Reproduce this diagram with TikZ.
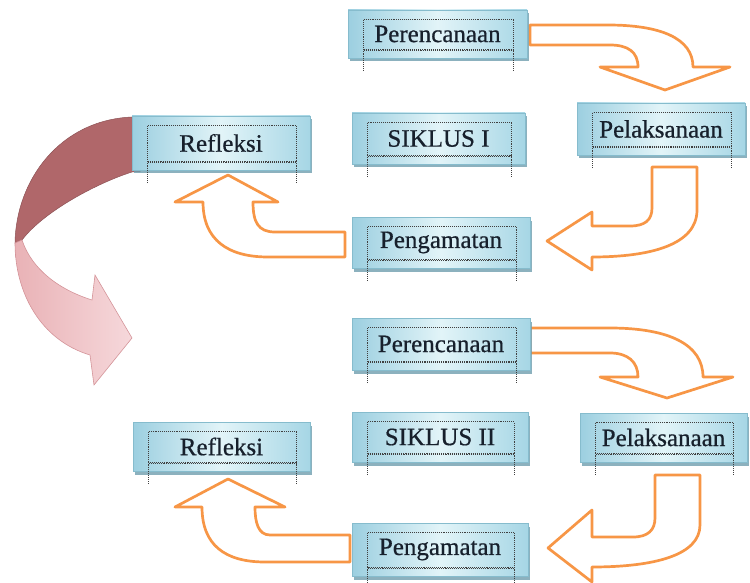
\documentclass[tikz,border=0pt]{standalone}
\usepackage{fontspec}
\setmainfont{Liberation Serif}
\usetikzlibrary{calc,shadows}
\definecolor{orng}{HTML}{F79646}
\definecolor{boxL}{HTML}{9CCFE0}
\definecolor{boxM}{HTML}{E2F4F8}
\definecolor{boxR}{HTML}{A6D6E5}
\definecolor{boxedge}{HTML}{86BCCD}
\definecolor{shadowc}{HTML}{6F9EAE}
\definecolor{txt}{HTML}{17202C}
\definecolor{darkrose}{HTML}{B0676A}
\definecolor{pinkA}{HTML}{E9B2B6}
\definecolor{pinkB}{HTML}{F6D8DB}
\definecolor{pinkedge}{HTML}{D49499}
\newcommand\frameit[1]{%
  \draw[dotframe] ($(#1.north west)+(16,10)$) rectangle ($(#1.south east)+(-14,-9)$);
  \draw[dotframe] ($(#1.south west)+(16,-9)$) -- ($(#1.south west)+(16,13)$);
  \draw[dotframe] ($(#1.south east)+(-14,-9)$) -- ($(#1.south east)+(-14,13)$);
  \draw[dotframe] ($(#1.south west)+(16,-7.6)$) -- ($(#1.south east)+(-14,-7.6)$);
}
\begin{document}
\begin{tikzpicture}[x=1pt,y=-1pt,
  stepbox/.style={draw=boxedge, line width=0.6pt, left color=boxL, right color=boxR, middle color=boxM,
    drop shadow={shadow xshift=1.5pt, shadow yshift=-3.5pt, fill=shadowc, opacity=0.8},
    font=\fontsize{25}{27}\selectfont\addfontfeatures{FakeBold=0.6}, text=txt, inner sep=0pt},
  dotframe/.style={densely dotted, line width=1.1pt, draw=black!75},
  oarrow/.style={draw=orng, line width=2.7pt, fill=white, line join=round}]
\useasboundingbox (0,0) rectangle (750,583);

% big rose curved arrow
\fill[darkrose, draw=darkrose!80!black, line width=0.5pt]
  (140,117) -- (132,117) .. controls (60,120) and (16,180) .. (15,243)
  -- (22,240) .. controls (45,210) and (100,182) .. (132,172) -- (140,172) -- cycle;
\shade[left color=pinkA, right color=pinkB, draw=pinkedge, line width=0.6pt]
  (15,243) .. controls (15,292) and (40,340) .. (90,355)
  -- (94,385) -- (132,338) -- (95,275) -- (92,300)
  .. controls (60,290) and (32,270) .. (22,240) -- cycle;

% orange block arrows
\draw[oarrow] (530,25) -- (608,25) .. controls (660,25) and (693,38) .. (693,67)
  -- (730,67) -- (665,90) -- (600,67) -- (638,67)
  .. controls (638,52) and (628,45) .. (610,45) -- (530,45) -- cycle;
\draw[oarrow] (652,167) -- (697,167) -- (697,210) .. controls (697,245) and (650,257) .. (592,257)
  -- (592,270) -- (547,241) -- (592,212) -- (592,226) -- (630,226)
  .. controls (645,226) and (652,220) .. (652,208) -- cycle;
\draw[oarrow] (345,232) -- (275,232) .. controls (258,232) and (253,222) .. (253,202)
  -- (278,202) -- (228,175) -- (175,202) -- (203,202)
  .. controls (203,240) and (228,257) .. (268,257) -- (345,257) -- cycle;

\draw[oarrow] (530,328) -- (610,328) .. controls (670,328) and (703,345) .. (703,377)
  -- (733,377) -- (667,398) -- (600,377) -- (638,377)
  .. controls (638,362) and (628,353) .. (610,353) -- (530,353) -- cycle;
\draw[oarrow] (655,475) -- (700,475) -- (700,525) .. controls (700,555) and (655,567) .. (592,567)
  -- (592,582) -- (548,548) -- (592,510) -- (592,537) -- (633,537)
  .. controls (648,537) and (655,530) .. (655,518) -- cycle;
\draw[oarrow] (350,535) -- (270,535) .. controls (258,535) and (255,522) .. (255,507)
  -- (285,507) -- (228,479) -- (175,507) -- (202,507)
  .. controls (202,545) and (225,562) .. (265,562) -- (350,562) -- cycle;

% boxes
\node[stepbox, minimum width=179, minimum height=48] (p1) at (437.5,34) {Perencanaan};
\node[stepbox, minimum width=173, minimum height=51] (s1) at (438.5,138.5) {SIKLUS I};
\node[stepbox, minimum width=168, minimum height=52] (l1) at (661,129) {Pelaksanaan};
\node[stepbox, minimum width=178, minimum height=54] (r1) at (221,143) {Refleksi};
\node[stepbox, minimum width=178, minimum height=51] (g1) at (441,242.5) {Pengamatan};

\node[stepbox, minimum width=178, minimum height=52] (p2) at (441,344) {Perencanaan};
\node[stepbox, minimum width=176, minimum height=50] (s2) at (440,437) {SIKLUS II};
\node[stepbox, minimum width=167, minimum height=49] (l2) at (663.5,437.5) {Pelaksanaan};
\node[stepbox, minimum width=177, minimum height=49] (r2) at (221.5,446.5) {Refleksi};
\node[stepbox, minimum width=176, minimum height=53] (g2) at (440,549.5) {Pengamatan};

\foreach \n in {p1,s1,l1,r1,g1,p2,s2,l2,r2,g2} {\frameit{\n}}
\end{tikzpicture}
\end{document}
